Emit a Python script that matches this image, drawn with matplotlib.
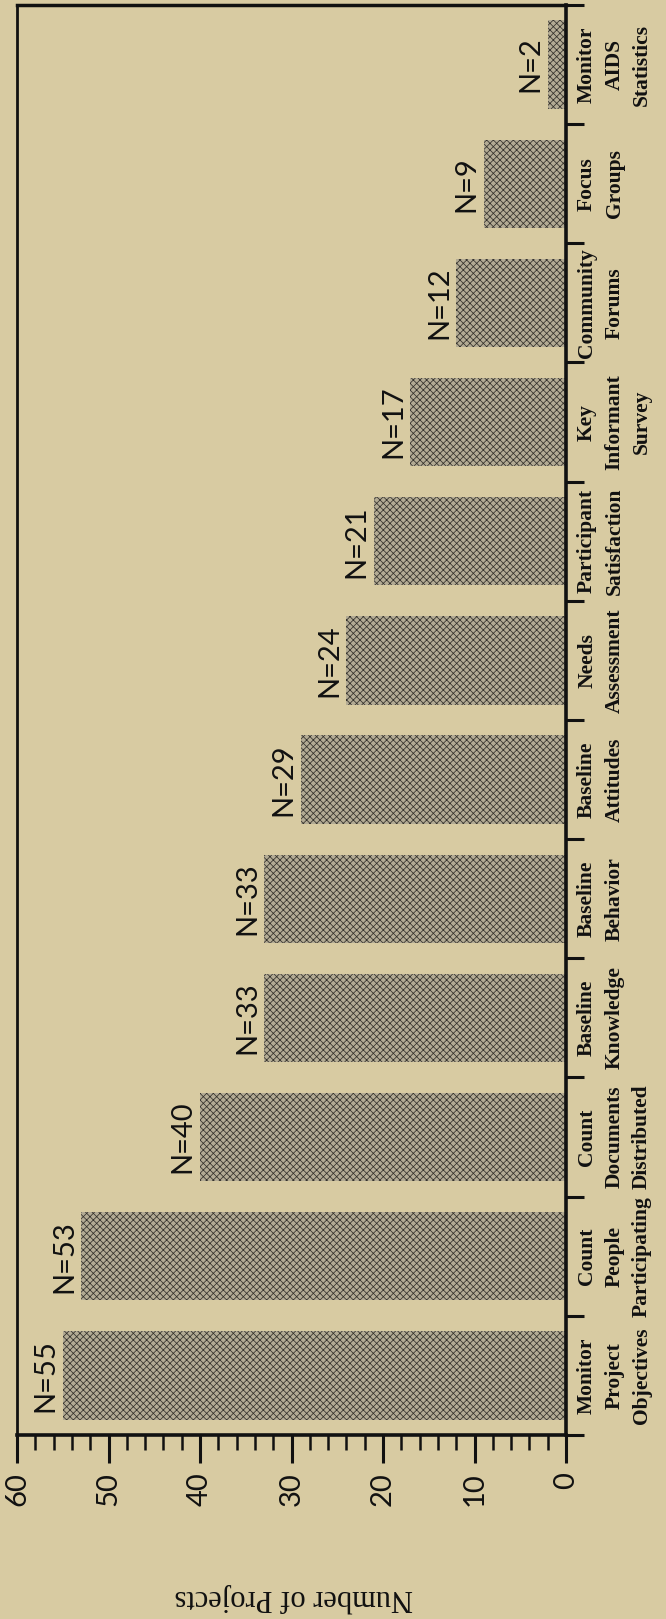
import matplotlib
matplotlib.use('Agg')
import matplotlib.pyplot as plt
from matplotlib.ticker import MultipleLocator, FixedLocator

categories = ["Monitor\nProject\nObjectives", "Count\nPeople\nParticipating",
              "Count\nDocuments\nDistributed", "Baseline\nKnowledge", "Baseline\nBehavior",
              "Baseline\nAttitudes", "Needs\nAssessment", "Participant\nSatisfaction",
              "Key\nInformant\nSurvey", "Community\nForums", "Focus\nGroups",
              "Monitor\nAIDS\nStatistics"]
values = [55, 53, 40, 33, 33, 29, 24, 21, 17, 12, 9, 2]
value_ticks = [0, 10, 20, 30, 40, 50, 60]
axis_label = "Number of Projects"

plt.rcParams['font.family'] = ['Liberation Serif', 'DejaVu Serif']
plt.rcParams['hatch.linewidth'] = 0.55

BG = '#d8cba2'
W, H = 666, 1619
fig = plt.figure(figsize=(W / 100, H / 100), dpi=100, facecolor=BG)
ax = fig.add_axes([17 / W, (H - 1435) / H, (566 - 17) / W, (1435 - 5) / H])
ax.set_facecolor(BG)

pos = list(range(len(values)))
ax.barh(pos, values, height=0.74, color='#b3ab94', edgecolor='#35322c',
        hatch='xxxxx', linewidth=0)
ax.set_xlim(60, 0)
ax.set_ylim(-0.5, len(values) - 0.5)

# value axis (bottom)
ax.set_xticks(value_ticks)
ax.set_xticklabels([str(v) for v in value_ticks], rotation=90, fontsize=21,
                   fontfamily='Lato', va='top', ha='center')
ax.xaxis.set_minor_locator(MultipleLocator(2))
ax.tick_params(axis='x', which='major', length=20, width=2.2, direction='out', pad=7,
               colors='#111111', top=False)
ax.tick_params(axis='x', which='minor', length=11, width=1.8, direction='out',
               colors='#111111', top=False)

# category axis (right)
ax.set_yticks(pos)
ax.set_yticklabels(categories, rotation=90, fontsize=15.5, fontweight='bold',
                   ha='left', va='center', multialignment='center', linespacing=1.5)
ax.yaxis.set_minor_locator(FixedLocator([p - 0.5 for p in range(len(values) + 1)]))
ax.tick_params(axis='y', which='major', length=0, pad=8, left=False, right=True,
               labelleft=False, labelright=True, colors='#111111')
ax.tick_params(axis='y', which='minor', length=13, width=2.2, direction='out',
               left=False, right=True, colors='#111111')

for s, lw in [('left', 2.0), ('top', 2.5), ('right', 2.6), ('bottom', 2.6)]:
    ax.spines[s].set_linewidth(lw)
    ax.spines[s].set_color('#111111')

for p, v in zip(pos, values):
    ax.annotate(f"N={v}", xy=(v, p), xytext=(-3, 0), textcoords='offset points',
                ha='right', va='center', rotation=90, fontsize=21,
                fontfamily='Lato', color='#111111')

fig.text(294 / W, 1 - 1598 / H, axis_label, rotation=180, ha='center', va='center',
         fontsize=22, color='#111111')

fig.savefig('out.png', dpi=100, facecolor=BG)
